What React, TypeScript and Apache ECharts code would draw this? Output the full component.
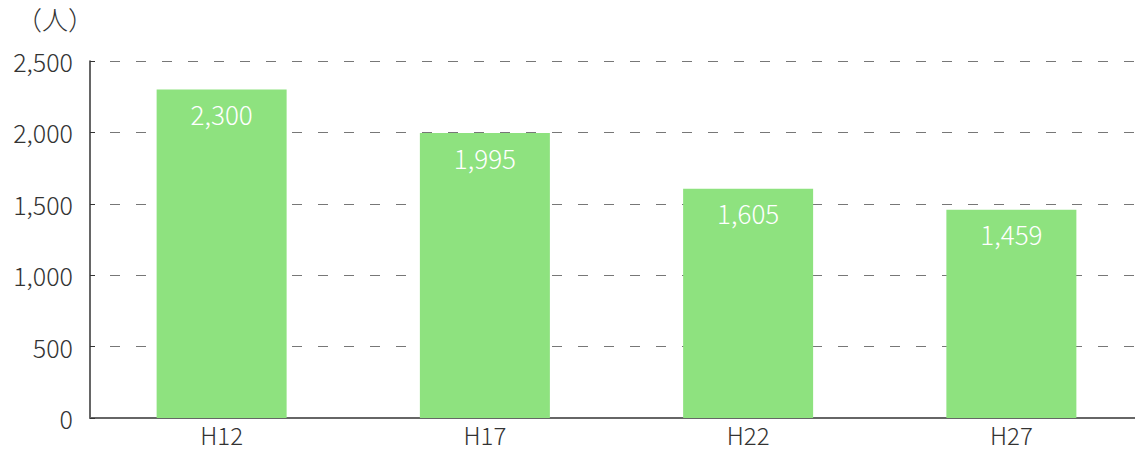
import React, { useEffect, useRef } from "react";
import * as echarts from "echarts";

const categories = ["H12", "H17", "H22", "H27"];
const values = [2300, 1995, 1605, 1459];
const yMin = 0;
const yMax = 2500;
const yInterval = 500;
const unitLabel = "（人）";

const FONT = "'Noto Sans CJK JP', 'Noto Sans', sans-serif";
const W = 300;

export default function App() {
  const ref = useRef<HTMLDivElement>(null);
  useEffect(() => {
    if (!ref.current) return;
    const chart = echarts.init(ref.current, undefined, { renderer: "svg" });
    chart.setOption({
      animation: false,
      textStyle: { fontFamily: FONT, fontWeight: W },
      graphic: [
        {
          type: "text",
          left: 16,
          top: 5,
          style: { text: unitLabel, fontSize: 26, fill: "#333", fontFamily: FONT, fontWeight: W },
        },
      ],
      grid: { left: 90, width: 1053, top: 61, bottom: 32, containLabel: false, outerBoundsMode: "none" },
      xAxis: {
        type: "category",
        data: categories,
        axisLine: { lineStyle: { color: "#666", width: 2 } },
        axisTick: { inside: true, length: 8, lineStyle: { color: "#666" } },
        axisLabel: { fontSize: 24, lineHeight: 24, color: "#333", margin: 4, fontFamily: FONT, fontWeight: W },
      },
      yAxis: {
        type: "value",
        min: yMin,
        max: yMax,
        interval: yInterval,
        axisLine: { show: true, lineStyle: { color: "#333", width: 1.5 } },
        axisTick: { show: true, inside: true, length: 5, lineStyle: { color: "#333" } },
        axisLabel: {
          fontSize: 25,
          color: "#333",
          margin: 17,
          fontFamily: FONT,
          fontWeight: W,
          formatter: (v: number) => v.toLocaleString("en-US"),
        },
        splitLine: {
          show: true,
          lineStyle: { color: "#777", type: [10, 16], dashOffset: -20, width: 1 },
        },
      },
      series: [
        {
          type: "bar",
          data: values,
          barWidth: 130,
          itemStyle: { color: "#8ee27f" },
          label: {
            show: true,
            position: "insideTop",
            distance: 11,
            color: "#fff",
            fontSize: 26,
            fontFamily: FONT,
            fontWeight: W,
            formatter: (p: any) => Number(p.value).toLocaleString("en-US"),
          },
        },
      ],
    });
    return () => chart.dispose();
  }, []);
  return <div ref={ref} style={{ width: 1135, height: 450, position: "absolute", left: 0, top: 0 }} />;
}
